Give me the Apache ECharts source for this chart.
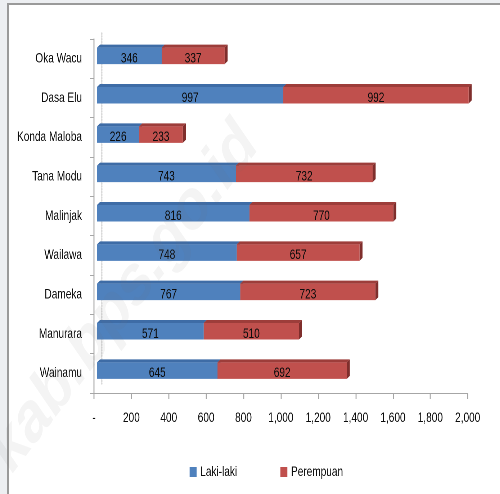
<!DOCTYPE html>
<html>
<head>
<meta charset="utf-8">
<script src="https://cdn.jsdelivr.net/npm/echarts@6/dist/echarts.min.js"></script>
<style>
  html, body { margin: 0; padding: 0; width: 500px; height: 494px; overflow: hidden; background: #edeff2; }
  #frame { position: absolute; left: 7px; top: 3px; width: 600px; height: 600px; background: #ffffff;
           border-left: 2px solid #9a9a9a; border-top: 2px solid #9a9a9a; }
  #wrap { position: absolute; left: 0; top: 0; width: 500px; height: 494px; overflow: hidden; }
  #chart { position: absolute; left: 0; top: 0; height: 494px; transform-origin: 0 0; }
</style>
</head>
<body>
<div id="frame"></div>
<div id="wrap"><div id="chart"></div></div>
<script>
// Village names, top to bottom
const villages = ['Oka Wacu', 'Dasa Elu', 'Konda Maloba', 'Tana Modu', 'Malinjak',
                  'Wailawa', 'Dameka', 'Manurara', 'Wainamu'];
// Population by sex
const lakiLaki  = [346, 997, 226, 743, 816, 748, 767, 571, 645];
const perempuan = [337, 992, 233, 732, 770, 657, 723, 510, 692];
// Value axis ticks
const axisMin = 0, axisMax = 2000, axisStep = 200;

// The chart is laid out wide and squeezed horizontally, giving narrow lettering
const SX = 0.72;
const W = 500 / SX;
const px = v => v / SX;          // horizontal page pixels -> chart pixels
const FONT = "'Liberation Sans', Arial, sans-serif";
const FS = 14;
const INK = '#0d0d0d';

const el = document.getElementById('chart');
el.style.width = W + 'px';
el.style.transform = 'scaleX(' + SX + ')';

// Stacked segments: [start, end, categoryIndex, value]
const lakiSeg = lakiLaki.map((v, i) => [0, v, i, v]);
const perSeg = perempuan.map((v, i) => [lakiLaki[i], lakiLaki[i] + v, i, v]);

function fmt(v) {
  if (v === 0) return '-';
  return String(v).replace(/\B(?=(\d{3})+(?!\d))/g, ',');
}

// Draws one stacked segment as a box with a front, top and right face
function box3d(colors) {
  return function (params, api) {
    const p0 = api.coord([api.value(0), api.value(2)]);
    const p1 = api.coord([api.value(1), api.value(2)]);
    const dx = px(3), depthX = px(3), depthY = 3;
    const x0 = p0[0] + dx, x1 = p1[0] + dx, yc = p0[1];
    const yt = yc - 11, yb = yc + 5.5;
    return {
      type: 'group',
      children: [
        { type: 'polygon', shape: { points: [[x1, yt], [x1, yb], [x1 + depthX, yb - depthY], [x1 + depthX, yt - depthY]] },
          style: { fill: colors.side } },
        { type: 'polygon', shape: { points: [[x0, yt], [x1, yt], [x1 + depthX, yt - depthY], [x0 + depthX, yt - depthY]] },
          style: { fill: colors.top } },
        { type: 'rect', shape: { x: x0, y: yt, width: x1 - x0, height: yb - yt },
          style: { fill: colors.front } },
        { type: 'text', x: (x0 + x1) / 2, y: yc,
          style: { text: String(api.value(3)), align: 'center', verticalAlign: 'middle',
                   fill: INK, font: FS + 'px ' + FONT } }
      ]
    };
  };
}

const chart = echarts.init(el, null, { devicePixelRatio: 2 });
chart.setOption({
  backgroundColor: 'transparent',
  animation: false,
  textStyle: { fontFamily: FONT },
  grid: [
    { left: px(94), right: px(32), top: 39, bottom: 101 },
    { left: px(102), right: px(32), top: 33, bottom: 110 }
  ],
  legend: {
    left: px(186), top: 460, itemWidth: px(7), itemHeight: 10, itemGap: 60,
    icon: 'rect',
    textStyle: { fontFamily: FONT, fontSize: FS, color: INK },
    data: [
      { name: 'Laki-laki', itemStyle: { color: '#4F81BD' } },
      { name: 'Perempuan', itemStyle: { color: '#C0504D' } }
    ]
  },
  xAxis: [
    {
      gridIndex: 0, type: 'value', min: axisMin, max: axisMax, interval: axisStep,
      axisLine: { show: true, lineStyle: { color: '#a6a6a6', width: 1 } },
      axisTick: { show: true, length: 6, lineStyle: { color: '#a6a6a6', width: px(1) } },
      splitLine: { show: false },
      axisLabel: { margin: 18, fontSize: FS, color: INK, fontFamily: FONT, formatter: fmt }
    },
    { gridIndex: 1, type: 'value', min: axisMin, max: axisMax, show: false }
  ],
  yAxis: [
    {
      gridIndex: 0, type: 'category', data: villages, inverse: true,
      axisLine: { show: true, lineStyle: { color: '#a6a6a6', width: px(1) } },
      axisTick: { show: true, length: px(4), lineStyle: { color: '#a6a6a6' } },
      axisLabel: { margin: px(12), fontSize: FS, color: INK, fontFamily: FONT, padding: [5, 0, 0, 0] }
    },
    {
      gridIndex: 1, type: 'category', data: villages, inverse: true,
      axisLine: { show: true, lineStyle: { color: '#c4c4c4', type: 'dotted', width: px(1) } },
      axisTick: { show: false }, axisLabel: { show: false }
    }
  ],
  graphic: [
    { type: 'text', x: 0, y: 462, rotation: 0.76, z: 100, silent: true,
      style: { text: 'kab.bps.go.id', fill: 'rgba(120,120,120,0.08)',
               font: 'bold 74px "Liberation Sans", sans-serif', verticalAlign: 'middle' } }
  ],
  series: [
    {
      name: 'Laki-laki', type: 'custom', xAxisIndex: 0, yAxisIndex: 0,
      encode: { x: [0, 1], y: 2 },
      itemStyle: { color: '#4F81BD' },
      renderItem: box3d({ front: '#4F81BD', top: '#3E6CA6', side: '#355d8f' }),
      data: lakiSeg
    },
    {
      name: 'Perempuan', type: 'custom', xAxisIndex: 0, yAxisIndex: 0,
      encode: { x: [0, 1], y: 2 },
      itemStyle: { color: '#C0504D' },
      renderItem: box3d({ front: '#C0504D', top: '#9D3D3A', side: '#7f2e2c' }),
      data: perSeg
    }
  ]
});
</script>
</body>
</html>
